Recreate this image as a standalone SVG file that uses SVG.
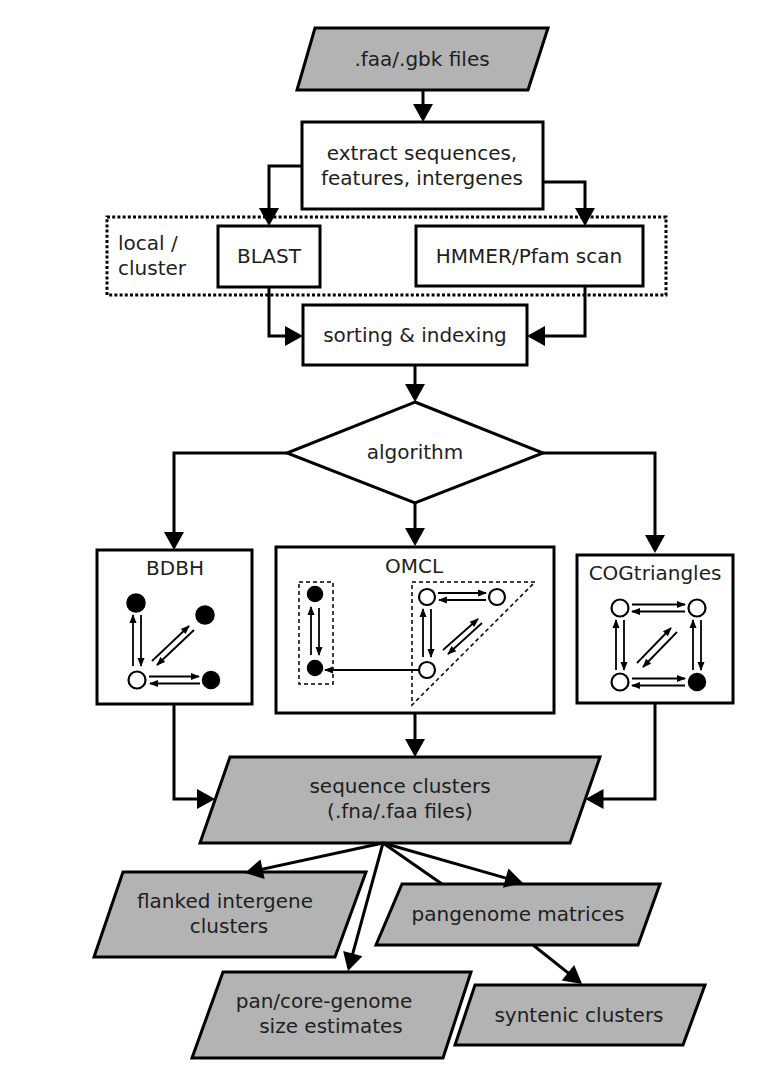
<svg xmlns="http://www.w3.org/2000/svg" width="780" height="1078" viewBox="0 0 780 1078">
<defs>
<style>
.box{fill:#fff;stroke:#000;stroke-width:3}
.io{fill:#b3b3b3;stroke:#000;stroke-width:3;stroke-linejoin:miter}
.dot{fill:none;stroke:#000;stroke-width:3;stroke-dasharray:3 2.2}
.dash{fill:none;stroke:#000;stroke-width:1.5;stroke-dasharray:4 3}
.t{font-family:"DejaVu Sans",Verdana,sans-serif;font-size:20px;fill:#1e1e1e;text-anchor:middle}
.tl{font-family:"DejaVu Sans",Verdana,sans-serif;font-size:20px;fill:#1e1e1e}
.c{fill:none;stroke:#000;stroke-width:3;marker-end:url(#a)}
.cp{fill:none;stroke:#000;stroke-width:3}
.s{fill:none;stroke:#000;stroke-width:1.8;marker-end:url(#sa)}
.nf{fill:#000;stroke:#000;stroke-width:1.5}
.no{fill:#fff;stroke:#000;stroke-width:2.2}
</style>
<marker id="a" markerUnits="userSpaceOnUse" markerWidth="18" markerHeight="20" refX="15" refY="10" orient="auto" overflow="visible">
<path d="M0,0 L18,10 L0,20 z" fill="#000"/>
</marker>
<marker id="sa" markerUnits="userSpaceOnUse" markerWidth="9" markerHeight="7" refX="8" refY="3.5" orient="auto" overflow="visible">
<path d="M0,0 L9,3.5 L0,7 z" fill="#000"/>
</marker>
</defs>
<rect width="780" height="1078" fill="#fff"/>

<g id="input">
<polygon class="io" points="315,28 548,28 528,90 297,90"/>
<text class="t" x="422" y="66">.faa/.gbk files</text>
</g>

<g id="extract">
<rect class="box" x="302" y="122" width="241" height="87"/>
<text class="t" x="422" y="160">extract sequences,</text>
<text class="t" x="422" y="185">features, intergenes</text>
</g>

<g id="local-cluster">
<rect class="dot" x="107" y="217" width="559" height="78"/>
<text class="tl" x="118" y="250">local /</text>
<text class="tl" x="118" y="275">cluster</text>
</g>

<g id="blast">
<rect class="box" x="218" y="226" width="102" height="61"/>
<text class="t" x="269" y="263">BLAST</text>
</g>

<g id="hmmer">
<rect class="box" x="416" y="226" width="227" height="60"/>
<text class="t" x="529" y="263">HMMER/Pfam scan</text>
</g>

<g id="sorting">
<rect class="box" x="303" y="305" width="224" height="60"/>
<text class="t" x="415" y="342">sorting &amp; indexing</text>
</g>

<g id="algorithm">
<polygon class="box" points="415,402 543,453 415,503 287,453"/>
<text class="t" x="415" y="459">algorithm</text>
</g>

<g id="bdbh">
<rect class="box" x="97" y="550" width="155" height="154"/>
<text class="t" x="175" y="575">BDBH</text>
<circle class="nf" cx="136" cy="603" r="9"/>
<circle class="nf" cx="205" cy="615" r="9"/>
<circle class="no" cx="137" cy="680" r="8.5"/>
<circle class="nf" cx="211" cy="680" r="8.5"/>
<path class="s" d="M133,666 V615"/>
<path class="s" d="M141,615 V666"/>
<path class="s" d="M152,661 L189,626"/>
<path class="s" d="M194,630 L157,665"/>
<path class="s" d="M149,676.5 H199"/>
<path class="s" d="M200,683.5 H150"/>
</g>

<g id="omcl">
<rect class="box" x="276" y="547" width="278" height="166"/>
<text class="t" x="414" y="573">OMCL</text>
<rect class="dash" x="299" y="582" width="34" height="102"/>
<polygon class="dash" points="412,582 535,582 412,705"/>
<circle class="nf" cx="315" cy="594" r="7.5"/>
<circle class="nf" cx="315" cy="668" r="7.5"/>
<path class="s" d="M311,655 V607"/>
<path class="s" d="M319,608 V655"/>
<circle class="no" cx="427" cy="597" r="8"/>
<circle class="no" cx="497" cy="597" r="8"/>
<circle class="no" cx="427" cy="670" r="8"/>
<path class="s" d="M438,593 H486"/>
<path class="s" d="M486,600 H439"/>
<path class="s" d="M423,657 V609"/>
<path class="s" d="M431,609 V657"/>
<path class="s" d="M443,650 L478,619"/>
<path class="s" d="M482,623 L448,654"/>
<path class="s" d="M419,670 H325"/>
</g>

<g id="cogtriangles">
<rect class="box" x="577" y="555" width="156" height="148"/>
<text class="t" x="655" y="580">COGtriangles</text>
<circle class="no" cx="620" cy="608" r="8.5"/>
<circle class="no" cx="697" cy="608" r="8.5"/>
<circle class="no" cx="620" cy="682" r="8.5"/>
<circle class="nf" cx="697" cy="682" r="8.5"/>
<path class="s" d="M632,604.5 H685"/>
<path class="s" d="M685,611.5 H632"/>
<path class="s" d="M616,670 V620"/>
<path class="s" d="M624,620 V670"/>
<path class="s" d="M693,670 V620"/>
<path class="s" d="M701,620 V670"/>
<path class="s" d="M637,663 L671,628"/>
<path class="s" d="M677,632 L643,667"/>
<path class="s" d="M632,678.5 H685"/>
<path class="s" d="M685,685.5 H632"/>
</g>

<g id="sequence-clusters">
<polygon class="io" points="230,757 600,757 570,843 200,843"/>
<text class="t" x="400" y="793">sequence clusters</text>
<text class="t" x="400" y="818">(.fna/.faa files)</text>
</g>

<g id="flanked">
<polygon class="io" points="123,872 366,872 335,957 94,957"/>
<text class="t" x="225" y="908">flanked intergene</text>
<text class="t" x="229" y="933">clusters</text>
</g>

<g id="pangenome">
<polygon class="io" points="402,884 660,884 638,945 376,945"/>
<text class="t" x="518" y="921">pangenome matrices</text>
</g>

<g id="pancore">
<polygon class="io" points="223,972 471,972 443,1058 192,1058"/>
<text class="t" x="324" y="1008">pan/core-genome</text>
<text class="t" x="331" y="1033">size estimates</text>
</g>

<g id="syntenic">
<polygon class="io" points="475,985 705,985 683,1045 455,1045"/>
<text class="t" x="579" y="1022">syntenic clusters</text>
</g>

<g id="connectors">
<path class="c" d="M423,90 V119"/>
<path class="c" d="M302,166 H269 V223"/>
<path class="c" d="M543,182 H585 V223"/>
<path class="c" d="M269,287 V336 H300"/>
<path class="c" d="M585,286 V336 H530"/>
<path class="c" d="M415,365 V399"/>
<path class="c" d="M287,453 H174 V547"/>
<path class="c" d="M415,503 V543"/>
<path class="c" d="M543,453 H655 V550"/>
<path class="c" d="M174,704 V799 H212"/>
<path class="c" d="M415,713 V754"/>
<path class="c" d="M655,703 V799 H588.5"/>
<path class="c" d="M383,843 L247.9,872.4"/>
<path class="c" d="M383,843 L348.8,968.1"/>
<path class="cp" d="M383,843 L442,884"/>
<path class="c" d="M383,843 L520.1,882.2"/>
<path class="c" d="M533,945 L579.7,982.1"/>
</g>
</svg>
